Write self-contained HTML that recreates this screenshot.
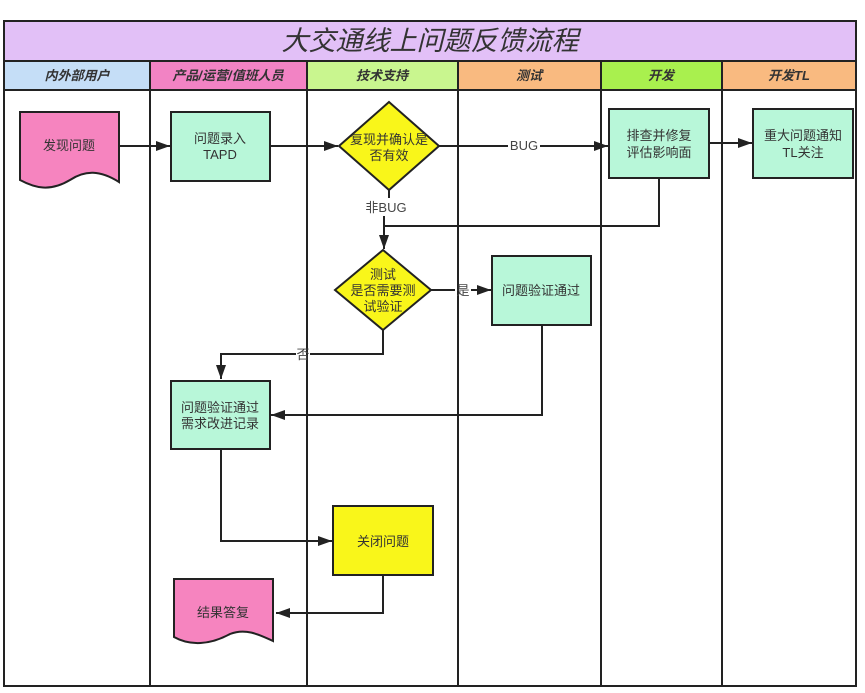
<!DOCTYPE html>
<html><head><meta charset="utf-8"><style>
html,body{margin:0;padding:0;background:#fff;width:865px;height:693px;overflow:hidden}
svg{display:block}
text{font-family:"Liberation Sans","Noto Sans CJK SC",sans-serif;}
</style></head><body>
<svg width="865" height="693" viewBox="0 0 865 693" xmlns="http://www.w3.org/2000/svg">
<defs>
<marker id="a" markerWidth="14" markerHeight="10" refX="14" refY="5" orient="auto" markerUnits="userSpaceOnUse">
<path d="M0,0 L14,5 L0,10 z" fill="#222"/></marker>
</defs>
<rect x="4" y="21" width="852" height="40" fill="#e2c0f7" stroke="#222" stroke-width="2"/>
<text x="430" y="50" font-size="27" font-style="italic" text-anchor="middle" fill="#333">大交通线上问题反馈流程</text>
<g stroke="#222" stroke-width="2">
<rect x="4" y="61" width="146" height="29" fill="#c5def7"/>
<rect x="150" y="61" width="157" height="29" fill="#f283c4"/>
<rect x="307" y="61" width="151" height="29" fill="#c9f68f"/>
<rect x="458" y="61" width="143" height="29" fill="#f9ba80"/>
<rect x="601" y="61" width="121" height="29" fill="#a9f04e"/>
<rect x="722" y="61" width="134" height="29" fill="#f9ba80"/>
</g>
<g font-size="13" font-style="italic" font-weight="bold" fill="#333" text-anchor="middle">
<text x="77" y="80">内外部用户</text>
<text x="228" y="80">产品/运营/值班人员</text>
<text x="382" y="80">技术支持</text>
<text x="529" y="80">测试</text>
<text x="661" y="80">开发</text>
<text x="789" y="80">开发TL</text>
</g>
<g stroke="#222" stroke-width="2" fill="none">
<rect x="4" y="90" width="852" height="596"/>
<line x1="150" y1="90" x2="150" y2="686"/>
<line x1="307" y1="90" x2="307" y2="686"/>
<line x1="458" y1="90" x2="458" y2="686"/>
<line x1="601" y1="90" x2="601" y2="686"/>
<line x1="722" y1="90" x2="722" y2="686"/>
</g>
<g stroke="#222" stroke-width="2" fill="none">
<line x1="119" y1="146" x2="170" y2="146" marker-end="url(#a)"/>
<line x1="270" y1="146" x2="338" y2="146" marker-end="url(#a)"/>
<line x1="439" y1="146" x2="508" y2="146"/>
<line x1="540" y1="146" x2="608" y2="146" marker-end="url(#a)"/>
<line x1="709" y1="143" x2="752" y2="143" marker-end="url(#a)"/>
<polyline points="659,178 659,226 384,226"/>
<line x1="389" y1="190" x2="389" y2="198"/>
<line x1="384" y1="216" x2="384" y2="249" marker-end="url(#a)"/>
<line x1="431" y1="290" x2="455" y2="290"/>
<line x1="471" y1="290" x2="491" y2="290" marker-end="url(#a)"/>
<polyline points="383,330 383,354 310,354"/>
<polyline points="296,354 221,354 221,379" marker-end="url(#a)"/>
<polyline points="542,325 542,415 271,415" marker-end="url(#a)"/>
<polyline points="221,449 221,541 332,541" marker-end="url(#a)"/>
<polyline points="383,575 383,613 276,613" marker-end="url(#a)"/>
</g>
<g font-size="13" fill="#444" text-anchor="middle">
<text x="524" y="150">BUG</text>
<text x="386" y="212">非BUG</text>
<text x="463" y="295">是</text>
<text x="303" y="359">否</text>
</g>
<g stroke="#222" stroke-width="2">
<path d="M20,112 H119 V182 C100,170 85,170 70,180 C50,192 35,188 20,180 Z" fill="#f684bf"/>
<rect x="171" y="112" width="99" height="69" fill="#b8f7d9"/>
<polygon points="389,102 439,146 389,190 339,146" fill="#f9f61a"/>
<rect x="609" y="109" width="100" height="69" fill="#b8f7d9"/>
<rect x="753" y="109" width="100" height="69" fill="#b8f7d9"/>
<polygon points="383,250 431,290 383,330 335,290" fill="#f9f61a"/>
<rect x="492" y="256" width="99" height="69" fill="#b8f7d9"/>
<rect x="171" y="381" width="99" height="68" fill="#b8f7d9"/>
<rect x="333" y="506" width="100" height="69" fill="#f9f61a"/>
<path d="M174,579 H273 V641 C258,634 245,628 230,634 C210,645 190,646 174,637 Z" fill="#f684bf"/>
</g>
<g font-size="13" fill="#333" text-anchor="middle">
<text x="69" y="150">发现问题</text>
<text x="220" y="143">问题录入</text>
<text x="220" y="159">TAPD</text>
<text x="389" y="144">复现并确认是</text>
<text x="389" y="160">否有效</text>
<text x="659" y="140">排查并修复</text>
<text x="659" y="157">评估影响面</text>
<text x="803" y="140">重大问题通知</text>
<text x="803" y="157">TL关注</text>
<text x="383" y="279">测试</text>
<text x="383" y="295">是否需要测</text>
<text x="383" y="311">试验证</text>
<text x="541" y="295">问题验证通过</text>
<text x="220" y="412">问题验证通过</text>
<text x="220" y="428">需求改进记录</text>
<text x="383" y="546">关闭问题</text>
<text x="223" y="617">结果答复</text>
</g>
</svg>
</body></html>
